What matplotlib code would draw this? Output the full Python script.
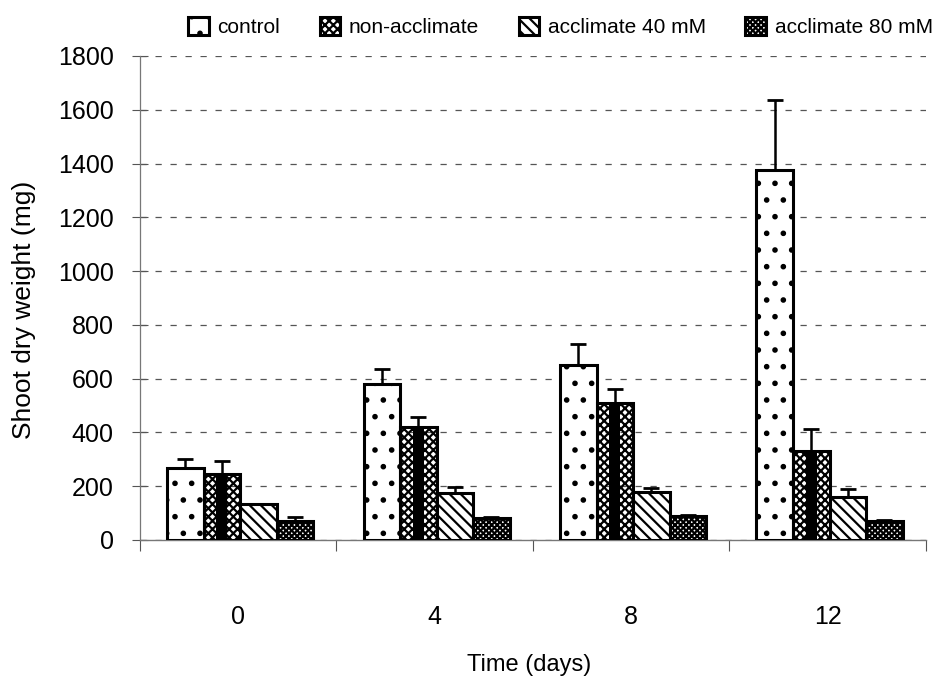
import numpy as np
import matplotlib
matplotlib.use("Agg")
import matplotlib.pyplot as plt

plt.rcParams['font.family'] = ['Liberation Sans', 'DejaVu Sans']
plt.rcParams['hatch.linewidth'] = 1.6

days = ['0', '4', '8', '12']
series = ['control', 'non-acclimate', 'acclimate 40 mM', 'acclimate 80 mM']
control = [266, 581, 650, 1375]
control_err = [36, 56, 79, 261]
nonacc = [247, 419, 510, 332]
nonacc_err = [48, 37, 50, 80]
acc40 = [132, 174, 180, 160]
acc40_err = [2, 23, 12, 29]
acc80 = [72, 80, 88, 71]
acc80_err = [15, 4, 5, 5]

vals = [control, nonacc, acc40, acc80]
errs = [control_err, nonacc_err, acc40_err, acc80_err]
hatches = ['.', 'xxxx', '\\\\\\', 'xxxxxx']

fig = plt.figure(figsize=(9.4, 6.83), dpi=100)
ax = fig.add_axes([0.1489, 0.2094, 0.836, 0.7087])

x = np.arange(len(days))
w = 0.186
handles = []
for i in range(4):
    pos = x + (i - 1.5) * w + 0.01
    if i == 1:
        # dark stripe down the middle of the non-acclimate bars
        ax.bar(pos, vals[i], w * 0.3, color='black', zorder=2)
    b = ax.bar(pos, vals[i], w, facecolor='none' if i == 1 else 'white',
               edgecolor='black', linewidth=2.2, hatch=hatches[i], zorder=3,
               label=series[i])
    ax.errorbar(pos, vals[i], yerr=[np.zeros(4), errs[i]], fmt='none',
                ecolor='black', elinewidth=1.8, capsize=6, capthick=2, zorder=4)
    handles.append(b)

ax.set_ylim(0, 1800)
ax.set_xlim(-0.5, 3.5)
ax.set_yticks(np.arange(0, 1801, 200))
ax.yaxis.grid(True, linestyle=(0, (5, 7)), color='#555555', linewidth=0.9)
ax.set_axisbelow(True)

ax.set_xticks(np.arange(-0.5, 3.6, 1))
ax.set_xticklabels([])
ax.set_xticks(x, minor=True)
ax.set_xticklabels(days, minor=True, fontsize=18)
ax.tick_params(axis='x', which='major', direction='out', length=8, color='#555555')
ax.tick_params(axis='x', which='minor', length=0, pad=47)
ax.tick_params(axis='y', direction='inout', length=12, color='#555555', labelsize=18, pad=13)

for s in ['top', 'right']:
    ax.spines[s].set_visible(False)
ax.spines['left'].set_color('#777777')
ax.spines['left'].set_linewidth(0.9)
ax.spines['bottom'].set_color('#777777')
ax.spines['bottom'].set_linewidth(1.0)

fig.text(24 / 940, 1 - 310 / 683, 'Shoot dry weight (mg)', rotation=90,
         ha='center', va='center', fontsize=19)
fig.text(529 / 940, 1 - 665 / 683, 'Time (days)', ha='center', va='center',
         fontsize=17)

fig.legend(handles=handles, loc='center left', bbox_to_anchor=(188 / 940, 1 - 27 / 683),
           ncol=4, frameon=False, fontsize=15, handlelength=1.0, handleheight=1.0,
           handletextpad=0.4, columnspacing=1.9, borderpad=0, borderaxespad=0)

fig.savefig('out.png', dpi=100)
